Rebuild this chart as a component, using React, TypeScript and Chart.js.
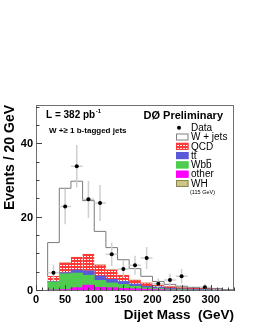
import React, { useEffect, useRef } from "react";
import { Chart, registerables } from "chart.js";
Chart.register(...registerables);

// ---- data ----
const binCenters = [30, 50, 70, 90, 110, 130, 150, 170, 190, 210, 230, 250, 270, 290, 310, 330];
const binHalfWidth = 10;
const otherVals = [0.3, 0.4, 0.9, 1.6, 1.0, 0.9, 0.7, 0.6, 0.5, 0.4, 0.3, 0.2, 0.2, 0.2, 0.1, 0.1];
const wbbVals = [2.2, 4.3, 4.0, 2.7, 1.9, 1.3, 1.1, 0.7, 0.4, 0.3, 0.2, 0.2, 0.1, 0.1, 0.1, 0.0];
const ttVals = [0.1, 0.3, 0.8, 1.2, 1.2, 1.0, 0.8, 0.6, 0.4, 0.4, 0.3, 0.2, 0.2, 0.2, 0.1, 0.1];
const qcdVals = [1.4, 2.7, 3.5, 4.5, 3.0, 2.6, 1.7, 1.1, 0.9, 0.5, 0.4, 0.3, 0.2, 0.2, 0.3, 0.1];
const whVals = [0, 0, 0.02, 0.03, 0.05, 0.03, 0.02, 0.01, 0, 0, 0, 0, 0, 0, 0, 0];
const wjetsVals = [9.2, 20.3, 20.7, 14.6, 9.1, 6.0, 4.2, 3.1, 1.8, 1.0, 0.6, 0.4, 0.3, 0.2, 0.1, 0.05];

const dataX = [30, 50, 70, 90, 110, 130, 150, 170, 190, 210, 230, 250, 290];
const dataY = [5, 23, 34, 25, 24, 10, 6, 7, 9, 2, 3, 4, 1];
const dataErr = [2.2, 4.8, 5.8, 5.0, 4.9, 3.2, 2.4, 2.6, 3.0, 1.4, 1.7, 2.0, 1.0];

const xTicks = [0, 50, 100, 150, 200, 250, 300];
const yTicks = [0, 20, 40];
const xMinorStep = 10;
const yMinorStep = 5;
const xMin = 0, xMax = 340, yMin = 0, yMax = 50.7;

const xTitle = "Dijet Mass  (GeV)";
const yTitle = "Events / 20 GeV";
const legendLabels = ["Data", "W + jets", "QCD", "tt", "Wbb", "other", "WH"];

const FONT = '"Liberation Sans", Arial, Helvetica, sans-serif';

function makeQcdPattern(): CanvasPattern | string {
  const c = document.createElement("canvas");
  c.width = 3;
  c.height = 3;
  const g = c.getContext("2d");
  if (!g) return "#ff3b3b";
  g.fillStyle = "#ff3838";
  g.fillRect(0, 0, 3, 3);
  g.fillStyle = "#ffffff";
  g.fillRect(0, 1, 2, 1);
  return g.createPattern(c, "repeat") || "#ff3b3b";
}

export default function App() {
  const ref = useRef<HTMLCanvasElement | null>(null);

  useEffect(() => {
    if (!ref.current) return;
    const qcdPattern = makeQcdPattern();

    const stackBelow = binCenters.map(
      (_, i) => otherVals[i] + wbbVals[i] + ttVals[i] + qcdVals[i] + whVals[i]
    );
    const totals = binCenters.map((_, i) => stackBelow[i] + wjetsVals[i]);
    const outline: { x: number; y: number }[] = [];
    outline.push({ x: binCenters[0] - binHalfWidth, y: stackBelow[0] });
    binCenters.forEach((c, i) => outline.push({ x: c - binHalfWidth, y: totals[i] }));
    outline.push({ x: binCenters[binCenters.length - 1] + binHalfWidth, y: totals[totals.length - 1] });

    const barDs = (label: string, vals: number[], color: any, order: number, extra: any = {}) => ({
      type: "bar" as const,
      label,
      data: binCenters.map((x, i) => ({ x, y: vals[i] })),
      backgroundColor: color,
      borderWidth: 0,
      barPercentage: 1,
      categoryPercentage: 1,
      stack: "mc",
      order,
      ...extra,
    });

    const errPlugin = {
      id: "errbars",
      beforeDatasetDraw(chart: any, args: any) {
        if (args.index !== 0) return;
        const { ctx, scales } = chart;
        const x = scales.x, y = scales.y;
        ctx.save();
        ctx.strokeStyle = "#cfcfcf";
        ctx.lineWidth = 1.5;
        dataX.forEach((xv, i) => {
          const px = x.getPixelForValue(xv);
          const py = y.getPixelForValue(dataY[i]);
          ctx.beginPath();
          ctx.moveTo(px, y.getPixelForValue(Math.max(0, dataY[i] - dataErr[i])));
          ctx.lineTo(px, y.getPixelForValue(dataY[i] + dataErr[i]));
          ctx.moveTo(x.getPixelForValue(xv - binHalfWidth), py);
          ctx.lineTo(x.getPixelForValue(xv + binHalfWidth), py);
          ctx.stroke();
        });
        ctx.restore();
      },
    };

    const axesPlugin = {
      id: "axes",
      afterDatasetsDraw(chart: any) {
        const { ctx, chartArea, scales } = chart;
        const x = scales.x, y = scales.y;
        const { left, right, top, bottom } = chartArea;
        ctx.save();
        // frame
        ctx.lineWidth = 1;
        ctx.strokeStyle = "#707070";
        ctx.strokeRect(Math.round(left) + 0.5, Math.round(top) + 0.5, Math.round(right - left) - 1, Math.round(bottom - top) - 1);
        // ticks (inside)
        ctx.strokeStyle = "#444";
        ctx.beginPath();
        for (let v = yMin; v <= yMax; v += yMinorStep) {
          const py = Math.round(y.getPixelForValue(v)) - 0.5;
          const len = yTicks.includes(v) ? 6 : 3.5;
          ctx.moveTo(left, py);
          ctx.lineTo(left + len, py);
        }
        for (let v = xMin; v <= xMax; v += xMinorStep) {
          const px = Math.round(x.getPixelForValue(v)) + 0.5;
          const len = xTicks.includes(v) ? 6 : 3.5;
          ctx.moveTo(px, bottom);
          ctx.lineTo(px, bottom - len);
        }
        ctx.stroke();
        // tick labels
        ctx.fillStyle = "#000";
        ctx.font = `bold 11px ${FONT}`;
        ctx.textBaseline = "middle";
        ctx.textAlign = "center";
        xTicks.forEach((v) => ctx.fillText(String(v), x.getPixelForValue(v), bottom + 8.5));
        ctx.textAlign = "right";
        yTicks.forEach((v) => ctx.fillText(String(v), left - 3, y.getPixelForValue(v)));
        // axis titles
        ctx.font = `bold 13.5px ${FONT}`;
        ctx.textAlign = "right";
        ctx.fillText(xTitle, right, 315);
        ctx.save();
        ctx.translate(10, top);
        ctx.rotate(-Math.PI / 2);
        ctx.font = `bold 14px ${FONT}`;
        ctx.textAlign = "right";
        ctx.fillText(yTitle, 0, 0);
        ctx.restore();
        ctx.restore();
      },
    };

    const annotPlugin = {
      id: "annot",
      afterDraw(chart: any) {
        const ctx = chart.ctx as CanvasRenderingContext2D;
        ctx.save();
        ctx.fillStyle = "#000";
        ctx.textBaseline = "middle";
        ctx.textAlign = "left";
        // luminosity
        ctx.font = `bold 10px ${FONT}`;
        ctx.fillText("L = 382 pb", 46, 115.5);
        const wl = ctx.measureText("L = 382 pb").width;
        ctx.font = `bold 6px ${FONT}`;
        ctx.fillText("-1", 46 + wl + 0.5, 111.5);
        // sample
        ctx.font = `bold 8px ${FONT}`;
        ctx.fillText("W +\u2265 1 b-tagged jets", 49, 130.5);
        // D0 Preliminary
        ctx.font = `bold 11px ${FONT}`;
        ctx.textAlign = "right";
        ctx.fillText("D\u00D8 Preliminary", 223, 116);
        ctx.textAlign = "left";

        // legend
        const boxX = 176, boxW = 12.5, boxH = 7, textX = 191, y0 = 127.7, step = 9.3;
        ctx.font = `10px ${FONT}`;
        const fills: any[] = [null, "#ffffff", qcdPattern, "#5a5ad8", "#4fcc4f", "#ff00ff", "#cdc488"];
        const strokes: any[] = [null, "#808080", "#ff3838", "#5a5ad8", "#4fcc4f", "#ff00ff", "#8a8450"];
        legendLabels.forEach((lab, i) => {
          const cy = y0 + i * step;
          if (i === 0) {
            ctx.beginPath();
            ctx.arc(179, cy, 2, 0, Math.PI * 2);
            ctx.fillStyle = "#000";
            ctx.fill();
          } else {
            ctx.fillStyle = fills[i];
            ctx.fillRect(boxX, cy - boxH / 2, boxW, boxH);
            ctx.strokeStyle = strokes[i];
            ctx.lineWidth = 1;
            ctx.strokeRect(boxX + 0.5, cy - boxH / 2 + 0.5, boxW - 1, boxH - 1);
          }
          ctx.fillStyle = "#000";
          ctx.fillText(lab, textX, cy + 0.5);
          if (lab === "tt" || lab === "Wbb") {
            const a = ctx.measureText(lab.slice(0, -1)).width;
            const b = ctx.measureText(lab).width;
            ctx.strokeStyle = "#000";
            ctx.lineWidth = 0.8;
            ctx.beginPath();
            ctx.moveTo(textX + a + 0.3, cy - 5.5);
            ctx.lineTo(textX + b - 0.3, cy - 5.5);
            ctx.stroke();
          }
        });
        ctx.font = `5.5px ${FONT}`;
        ctx.fillText("(115 GeV)", 190, y0 + 7 * step);
        ctx.restore();
      },
    };

    const chart = new Chart(ref.current, {
      type: "bar",
      data: {
        datasets: [
          {
            type: "line",
            label: "Data",
            data: dataX.map((x, i) => ({ x, y: dataY[i] })),
            showLine: false,
            pointRadius: 2,
            pointBackgroundColor: "#000",
            pointBorderWidth: 0,
            borderColor: "#000",
            stack: "data",
            order: 0,
          } as any,
          {
            type: "line",
            label: "W + jets",
            data: outline,
            stepped: "before",
            borderColor: "#7a7a7a",
            borderWidth: 1,
            pointRadius: 0,
            fill: false,
            stack: "outline",
            order: 1,
          } as any,
          barDs("other", otherVals, "#ff00ff", 2),
          barDs("Wbb", wbbVals, "#4fcc4f", 3),
          barDs("tt", ttVals, "#5a5ad8", 4),
          barDs("QCD", qcdVals, qcdPattern, 5, {
            borderColor: "#ff3838",
            borderWidth: { top: 1, left: 0, right: 0, bottom: 0 },
            borderSkipped: false,
          }),
          barDs("WH", whVals, "#cdc488", 6),
        ],
      },
      options: {
        animation: false,
        responsive: false,
        events: [],
        layout: { padding: { left: 36, right: 32, top: 105, bottom: 36 } },
        plugins: { legend: { display: false }, tooltip: { enabled: false } },
        scales: {
          x: {
            type: "linear",
            display: false,
            min: xMin,
            max: xMax,
            offset: false,
            afterBuildTicks: (s: any) => {
              s.ticks = xTicks.map((v) => ({ value: v }));
            },
            grid: { display: false, offset: false },
          },
          y: {
            type: "linear",
            display: false,
            min: yMin,
            max: yMax,
            stacked: true,
            afterBuildTicks: (s: any) => {
              s.ticks = yTicks.map((v) => ({ value: v }));
            },
            grid: { display: false },
          },
        },
      } as any,
      plugins: [errPlugin, axesPlugin, annotPlugin],
    });
    return () => chart.destroy();
  }, []);

  return (
    <div style={{ position: "absolute", left: 0, top: 0, width: 266, height: 327, background: "#fff" }}>
      <canvas ref={ref} width={266} height={327} style={{ display: "block" }} />
    </div>
  );
}
